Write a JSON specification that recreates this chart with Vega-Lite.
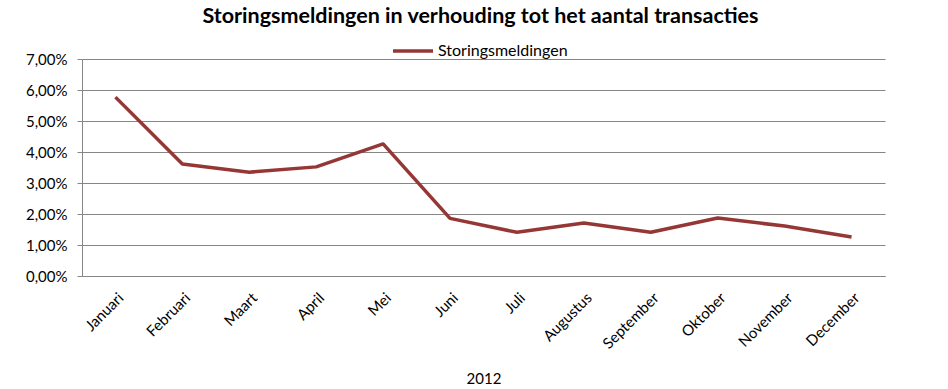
{
  "$schema": "https://vega.github.io/schema/vega-lite/v6.json",
  "width": 803,
  "height": 217,
  "autosize": {"type": "none"},
  "padding": {"left": 82, "top": 59, "right": 63, "bottom": 113},
  "background": "white",
  "title": {
    "text": "Storingsmeldingen in verhouding tot het aantal transacties",
    "font": "Lato",
    "fontSize": 21.5,
    "fontWeight": "bold",
    "color": "black",
    "anchor": "middle",
    "dx": -3,
    "offset": 2
  },
  "data": {
    "values": [
      {"maand": "Januari", "waarde": 0.0577, "serie": "Storingsmeldingen"},
      {"maand": "Februari", "waarde": 0.0361, "serie": "Storingsmeldingen"},
      {"maand": "Maart", "waarde": 0.0335, "serie": "Storingsmeldingen"},
      {"maand": "April", "waarde": 0.0352, "serie": "Storingsmeldingen"},
      {"maand": "Mei", "waarde": 0.0426, "serie": "Storingsmeldingen"},
      {"maand": "Juni", "waarde": 0.0186, "serie": "Storingsmeldingen"},
      {"maand": "Juli", "waarde": 0.0141, "serie": "Storingsmeldingen"},
      {"maand": "Augustus", "waarde": 0.0171, "serie": "Storingsmeldingen"},
      {"maand": "September", "waarde": 0.0141, "serie": "Storingsmeldingen"},
      {"maand": "Oktober", "waarde": 0.0187, "serie": "Storingsmeldingen"},
      {"maand": "November", "waarde": 0.0161, "serie": "Storingsmeldingen"},
      {"maand": "December", "waarde": 0.0126, "serie": "Storingsmeldingen"}
    ]
  },
  "mark": {"type": "line", "strokeWidth": 3.5, "strokeJoin": "round"},
  "encoding": {
    "x": {
      "field": "maand",
      "type": "nominal",
      "sort": null,
      "scale": {"type": "point", "padding": 0.5},
      "axis": {
        "title": "2012",
        "titleFont": "Lato",
        "titleFontSize": 15,
        "titleFontWeight": "normal",
        "titleColor": "black",
        "titleY": 107,
        "titleBaseline": "alphabetic",
        "labelAngle": -45,
        "labelAlign": "right",
        "labelBaseline": "top",
        "labelPadding": 14,
        "labelOffset": 0,
        "labelFont": "Lato",
        "labelFontSize": 15,
        "labelColor": "black",
        "ticks": false,
        "domainColor": "#868686",
        "grid": false
      }
    },
    "y": {
      "field": "waarde",
      "type": "quantitative",
      "scale": {"domain": [0, 0.07], "nice": false},
      "axis": {
        "title": null,
        "format": ".2%",
        "values": [0, 0.01, 0.02, 0.03, 0.04, 0.05, 0.06, 0.07],
        "labelFont": "Lato",
        "labelFontSize": 15,
        "labelColor": "black",
        "labelPadding": 10,
        "tickSize": 5,
        "tickColor": "#868686",
        "domainColor": "#868686",
        "gridColor": "#868686",
        "grid": true
      }
    },
    "color": {
      "field": "serie",
      "type": "nominal",
      "scale": {"range": ["#953735"]},
      "legend": {
        "title": null,
        "orient": "none",
        "legendX": 309,
        "legendY": -30,
        "symbolType": "stroke",
        "symbolStrokeWidth": 3.5,
        "symbolSize": 1600,
        "labelFont": "Lato",
        "labelFontSize": 16,
        "labelColor": "black",
        "labelOffset": 3
      }
    }
  },
  "config": {
    "view": {"stroke": null},
    "locale": {
      "number": {
        "decimal": ",",
        "thousands": ".",
        "grouping": [3],
        "currency": ["€", ""]
      }
    }
  }
}
